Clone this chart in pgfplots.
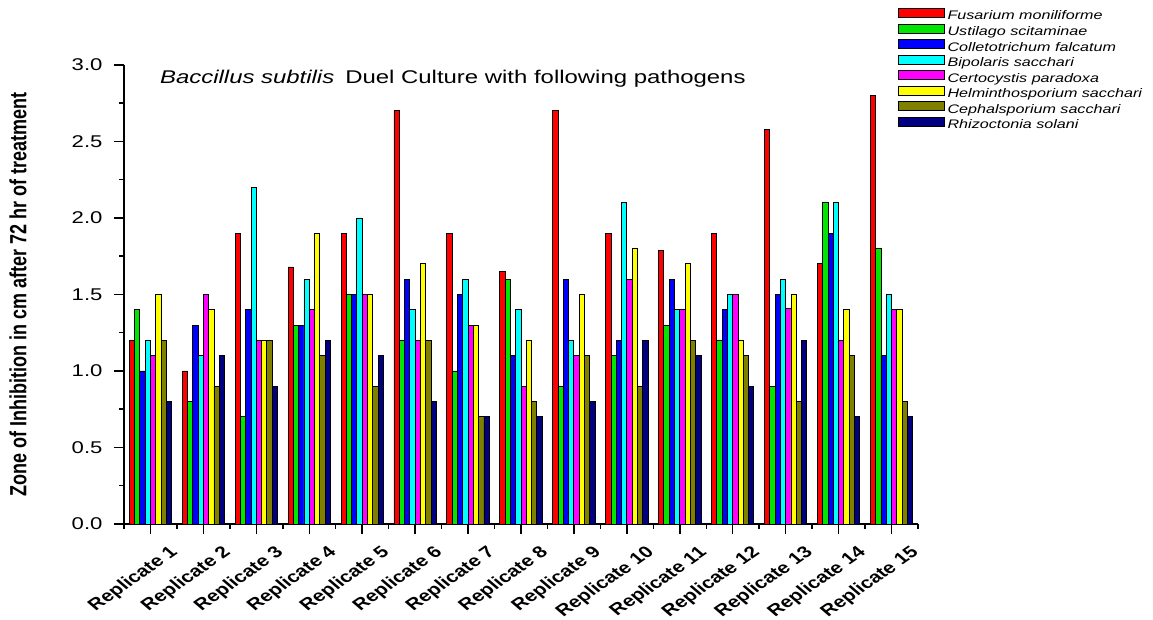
\documentclass[border=0pt]{standalone}
\usepackage{fontspec}
\usepackage{graphicx}
\usepackage{pgfplots}
\pgfplotsset{compat=1.18}
\setmainfont{Liberation Sans}[FakeStretch=1.3]
\newfontfamily\plainfont{Liberation Sans}
\definecolor{cRed}{RGB}{255,0,0}
\definecolor{cGreen}{RGB}{0,230,0}
\definecolor{cBlue}{RGB}{0,0,255}
\definecolor{cCyan}{RGB}{0,255,255}
\definecolor{cMagenta}{RGB}{255,0,255}
\definecolor{cYellow}{RGB}{255,255,0}
\definecolor{cOlive}{RGB}{128,128,0}
\definecolor{cNavy}{RGB}{0,0,128}
\newcommand{\xl}[1]{\scalebox{1.3}[1]{\rotatebox{42}{\plainfont\bfseries\fontsize{16.2}{18}\selectfont #1}}}
\begin{document}
\begin{tikzpicture}
\useasboundingbox (0,0) rectangle (1153pt,620pt);
\begin{axis}[
  at={(124pt,96pt)}, anchor=south west,
  width=794pt, height=459pt, scale only axis,
  xmin=0.5, xmax=15.5, ymin=0, ymax=3.0,
  axis x line*=bottom, axis y line*=left,
  x axis line style={-, line width=1.5pt},
  y axis line style={-, line width=1.5pt},
  tick align=outside,
  major tick length=10pt, minor tick length=5pt,
  every tick/.style={black, line width=1.5pt},
  xtick={1,...,15},
  minor xtick={0.5,1.5,...,15.5},
  xticklabels={\xl{Replicate 1},\xl{Replicate 2},\xl{Replicate 3},\xl{Replicate 4},\xl{Replicate 5},\xl{Replicate 6},\xl{Replicate 7},\xl{Replicate 8},\xl{Replicate 9},\xl{Replicate 10},\xl{Replicate 11},\xl{Replicate 12},\xl{Replicate 13},\xl{Replicate 14},\xl{Replicate 15}},
  xticklabel style={anchor=north east, inner sep=0pt, xshift=31pt, yshift=-11pt},
  ytick={0,0.5,...,3.0},
  minor y tick num=1,
  yticklabel style={font=\fontsize{17}{20}\selectfont, xshift=-8pt},
  /pgf/number format/fixed, /pgf/number format/fixed zerofill,
  /pgf/number format/precision=1, /pgf/number format/assume math mode=true,
  every axis y label/.style={at={(axis description cs:-0.1335,0.5)}, anchor=center},
  ylabel={\scalebox{1.3}[1]{\rotatebox{90}{\plainfont\bfseries\fontsize{18}{20}\selectfont Zone of Inhibition in cm after 72 hr of treatment}}},
  ybar=0pt, bar width=0.1,
  every axis plot/.append style={draw=black, line width=0.9pt},
  legend image code/.code={\draw[#1] (0pt,-0.5pt) rectangle (46pt,8.5pt);},
  legend cell align=left,
  legend style={at={(axis description cs:0.9748,1.1242)}, anchor=north west,
    draw=none, fill=none, inner sep=0pt, row sep=0pt, column sep=0pt,
    font=\itshape\fontsize{12.4}{14}\selectfont,
    nodes={inner xsep=2.5pt, inner ysep=1pt, text height=8.4pt, text depth=2.8pt}},
  clip=false,
]
\addplot[fill=cRed] coordinates {(1,1.2) (2,1.0) (3,1.9) (4,1.68) (5,1.9) (6,2.7) (7,1.9) (8,1.65) (9,2.7) (10,1.9) (11,1.79) (12,1.9) (13,2.58) (14,1.7) (15,2.8)};
\addplot[fill=cGreen] coordinates {(1,1.4) (2,0.8) (3,0.7) (4,1.3) (5,1.5) (6,1.2) (7,1.0) (8,1.6) (9,0.9) (10,1.1) (11,1.3) (12,1.2) (13,0.9) (14,2.1) (15,1.8)};
\addplot[fill=cBlue] coordinates {(1,1.0) (2,1.3) (3,1.4) (4,1.3) (5,1.5) (6,1.6) (7,1.5) (8,1.1) (9,1.6) (10,1.2) (11,1.6) (12,1.4) (13,1.5) (14,1.9) (15,1.1)};
\addplot[fill=cCyan] coordinates {(1,1.2) (2,1.1) (3,2.2) (4,1.6) (5,2.0) (6,1.4) (7,1.6) (8,1.4) (9,1.2) (10,2.1) (11,1.4) (12,1.5) (13,1.6) (14,2.1) (15,1.5)};
\addplot[fill=cMagenta] coordinates {(1,1.1) (2,1.5) (3,1.2) (4,1.4) (5,1.5) (6,1.2) (7,1.3) (8,0.9) (9,1.1) (10,1.6) (11,1.4) (12,1.5) (13,1.41) (14,1.2) (15,1.4)};
\addplot[fill=cYellow] coordinates {(1,1.5) (2,1.4) (3,1.2) (4,1.9) (5,1.5) (6,1.7) (7,1.3) (8,1.2) (9,1.5) (10,1.8) (11,1.7) (12,1.2) (13,1.5) (14,1.4) (15,1.4)};
\addplot[fill=cOlive] coordinates {(1,1.2) (2,0.9) (3,1.2) (4,1.1) (5,0.9) (6,1.2) (7,0.7) (8,0.8) (9,1.1) (10,0.9) (11,1.2) (12,1.1) (13,0.8) (14,1.1) (15,0.8)};
\addplot[fill=cNavy] coordinates {(1,0.8) (2,1.1) (3,0.9) (4,1.2) (5,1.1) (6,0.8) (7,0.7) (8,0.7) (9,0.8) (10,1.2) (11,1.1) (12,0.9) (13,1.2) (14,0.7) (15,0.7)};
\legend{Fusarium moniliforme, Ustilago scitaminae, Colletotrichum falcatum, Bipolaris sacchari, Certocystis paradoxa, Helminthosporium sacchari, Cephalsporium sacchari, Rhizoctonia solani}
\node[anchor=base west, inner sep=0pt, font=\fontsize{18.4}{22}\selectfont] at (axis description cs:0.0453,0.9586) {\textit{Baccillus subtilis}\hspace{0.6em}Duel Culture with following pathogens};
\end{axis}
\end{tikzpicture}
\end{document}
